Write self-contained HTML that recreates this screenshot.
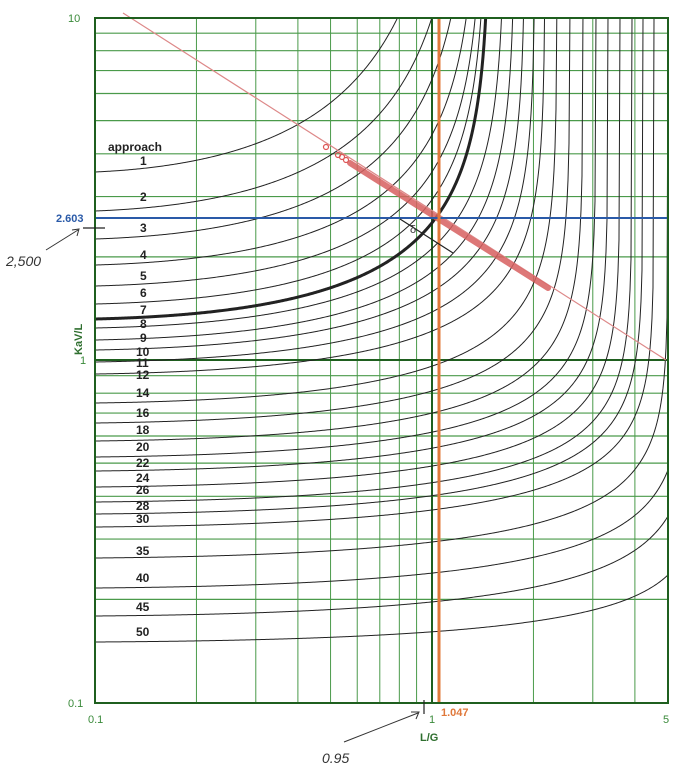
<!DOCTYPE html>
<html><head><meta charset="utf-8">
<style>
html,body{margin:0;padding:0;background:#fff;}
svg{display:block;}
text{font-family:"Liberation Sans",sans-serif;}
</style></head>
<body>
<svg id="s" width="700" height="767" viewBox="0 0 700 767" xmlns="http://www.w3.org/2000/svg">
<g id="grid"></g>
<g id="curves" fill="none" stroke="#222" stroke-width="1"></g>
<!-- red diagonal -->
<line x1="123" y1="13" x2="666" y2="360" stroke="#d88" stroke-width="1.2"/>
<line x1="350" y1="163" x2="548" y2="288" stroke="#d86060" stroke-width="6" stroke-linecap="round" opacity="0.85"/>
<g fill="none" stroke="#d55" stroke-width="1.2">
<circle cx="326" cy="147" r="2.5"/><circle cx="338" cy="155" r="2.5"/><circle cx="342" cy="157" r="2.5"/>
<circle cx="346" cy="160" r="2.5"/>
</g>
<!-- blue line -->
<line x1="95" y1="218" x2="668" y2="218" stroke="#2a5aa8" stroke-width="2"/>
<!-- orange line -->
<line x1="439" y1="18" x2="439" y2="703" stroke="#e0783a" stroke-width="3"/>
<!-- small black tangent -->
<path d="M400 219 L453 253" stroke="#222" stroke-width="1.2" fill="none"/>
<text x="410" y="233" font-size="11" fill="#333">δ</text>
<!-- border -->
<rect x="95" y="18" width="573" height="685" fill="none" stroke="#1f5f1f" stroke-width="2"/>
<!-- axis labels -->
<g fill="#3a8a3a" font-size="11">
<text x="68" y="22">10</text>
<text x="80" y="364">1</text>
<text x="68" y="707">0.1</text>
<text x="88" y="723">0.1</text>
<text x="429" y="723">1</text>
<text x="663" y="723">5</text>
</g>
<text x="420" y="741" font-size="11" font-weight="bold" fill="#2f6f2f">L/G</text>
<text transform="translate(82,355) rotate(-90)" font-size="11" font-weight="bold" fill="#2f6f2f">KaV/L</text>
<text x="56" y="222" font-size="11" font-weight="bold" fill="#2a5aa8">2.603</text>
<text x="441" y="716" font-size="11" font-weight="bold" fill="#e0783a">1.047</text>
<!-- handwritten annotations -->
<line x1="83" y1="228" x2="105" y2="228" stroke="#222" stroke-width="1.2"/>
<path d="M46 250 L78 230 M72 230 L79 229 L77 236" stroke="#333" fill="none" stroke-width="1"/>
<text x="6" y="266" font-size="14" font-style="italic" fill="#333" font-family="Liberation Serif,serif">2,500</text>
<line x1="424" y1="700" x2="424" y2="714" stroke="#222" stroke-width="1.2"/>
<path d="M344 742 L418 713 M411 712 L419 712 L416 719" stroke="#333" fill="none" stroke-width="1"/>
<text x="322" y="763" font-size="14" font-style="italic" fill="#333" font-family="Liberation Serif,serif">0.95</text>
<g id="labels" font-size="12" font-weight="bold" fill="#222"></g>
</svg>
<script>
(function(){
var NS="http://www.w3.org/2000/svg";
function xp(v){return 432+337*Math.log10(v);}
function yp(v){return 360-342.5*Math.log10(v);}
var g=document.getElementById('grid');
function ln(x1,y1,x2,y2,c,w){var l=document.createElementNS(NS,'line');l.setAttribute('x1',x1);l.setAttribute('y1',y1);l.setAttribute('x2',x2);l.setAttribute('y2',y2);l.setAttribute('stroke',c);l.setAttribute('stroke-width',w);g.appendChild(l);}
var xs=[0.2,0.3,0.4,0.5,0.6,0.7,0.8,0.9,2,3,4];
xs.forEach(function(v){ln(xp(v),18,xp(v),703,'#4a9a4a',1);});
var ys=[0.2,0.3,0.4,0.5,0.6,0.7,0.8,0.9,2,3,4,5,6,7,8,9];
ys.forEach(function(v){ln(95,yp(v),668,yp(v),'#4a9a4a',1.2);});
ln(432,18,432,703,'#1f5f1f',2);
ln(95,360,668,360,'#1f5f1f',2);
var C=[
[1,172,460,150,161],[2,211,470,130,197],[3,239,475,115,228],[4,265,480,100,255],
[5,286,484,92,276],[6,304,487,87,293],[7,319,490,83,310],[8,328,505,80,324],
[9,340,515,75,338],[10,350,525,70,352],[11,362,535,65,363],[12,374,545,60,375],
[14,403,557,56,393],[16,423,570,53,413],[18,441,583,50,430],[20,457,596,48,447],
[22,471,608,47,463],[24,487,620,46,478],[26,502,632,45,490],[28,514,643,45,506],
[30,527,654,44,519],[35,558,668,44,551],[40,588,685,44,578],[45,616,693,43,607],[50,642,700,32,632]];
var cg=document.getElementById('curves'),lg=document.getElementById('labels');
C.forEach(function(c){
 var yL=c[1],xa=c[2],A=c[3],d='';
 for(var x=95;x<=668;x+=1){
  var u=(x-95)/(xa-95);
  var y;
  if(u>=0.9995){y=0;} else {y=yL-A*(-Math.log(1-u)-0.89*u);}
  if(y<18){
   var lo=x-1,hi=x;
   for(var k=0;k<20;k++){var m=(lo+hi)/2;var um=(m-95)/(xa-95);var ym=um>=1?-1e9:yL-A*(-Math.log(1-um)-0.89*um);if(ym<18)hi=m;else lo=m;}
   d+=(d?'L':'M')+lo.toFixed(2)+' 18';break;
  }
  d+=(d?'L':'M')+x+' '+y.toFixed(2);
 }
 var p=document.createElementNS(NS,'path');p.setAttribute('d',d);
 if(c[0]===7){p.setAttribute('stroke-width','3');}
 cg.appendChild(p);
 var t=document.createElementNS(NS,'text');t.setAttribute('x',c[0]<10?140:136);t.setAttribute('y',c[4]+4);t.textContent=c[0];lg.appendChild(t);
});
var t=document.createElementNS(NS,'text');t.setAttribute('x',108);t.setAttribute('y',151);t.textContent='approach';lg.appendChild(t);
})();
</script>
</body></html>
